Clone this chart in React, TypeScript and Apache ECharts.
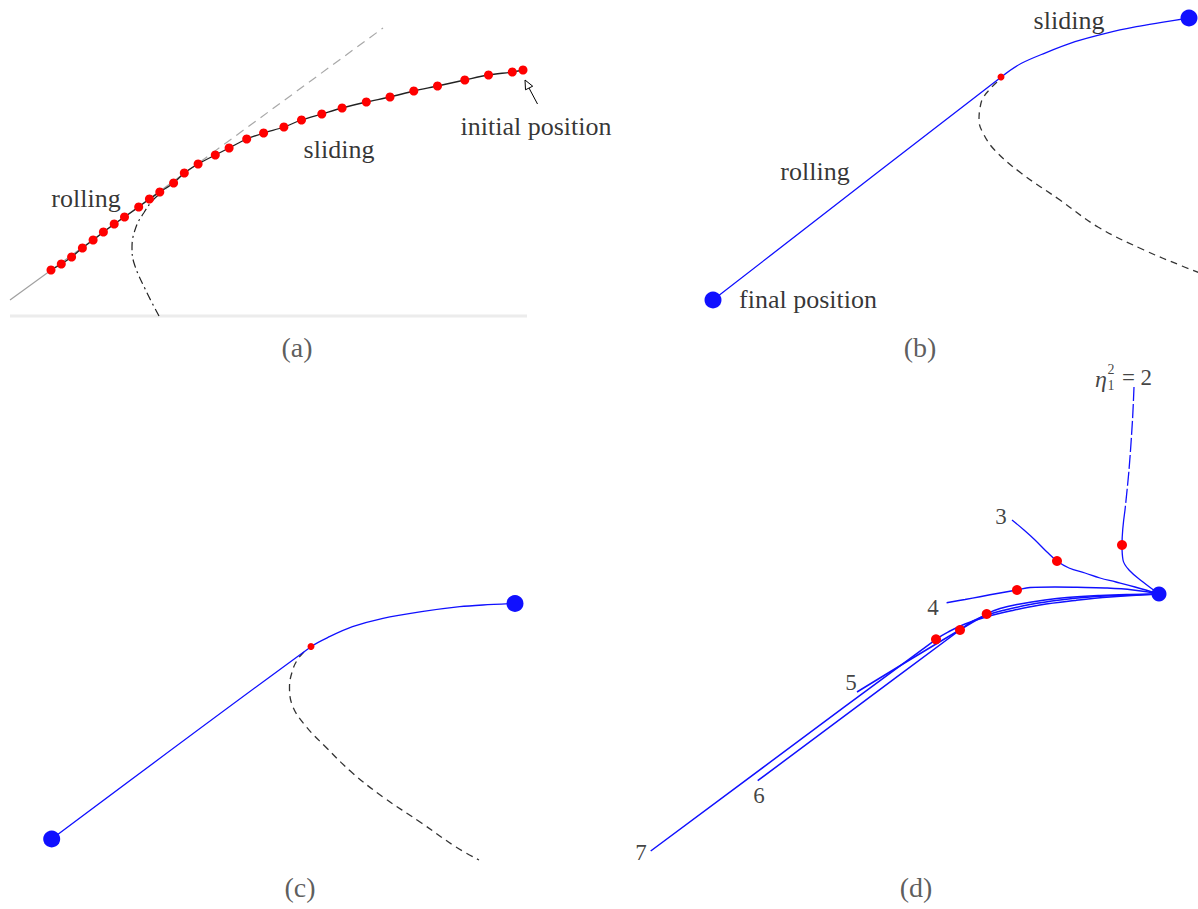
import React, { useEffect, useRef } from "react";
import * as echarts from "echarts";

// ---------- Panel (a) ----------
const aTangentSolid = [[10, 300], [200, 162]];
const aTangentDashed = [[200, 162], [383, 28]];
const aPathDots = [
  [51, 270], [61.3, 264], [71.6, 257], [82.4, 248], [93.1, 240], [103.4, 232],
  [114.2, 224], [124.5, 217], [138.7, 207], [149.4, 199], [159.8, 192], [173.6, 183],
  [184.3, 173], [198.1, 164], [215.3, 155], [229.1, 148], [246.7, 139], [263.6, 133],
  [283.9, 127], [301.5, 120], [321.8, 114], [342.1, 108], [366.3, 102], [390, 97],
  [413.8, 91], [437.5, 86], [464.8, 80], [488.5, 75], [512.3, 72], [523, 70],
];
const aSwitchCurve = [
  [159, 316], [145.6, 290], [134, 263], [132, 247], [136, 227], [143.7, 213], [153, 200], [166, 189],
];
const aBaseLine = [[10, 316], [527, 316]];
const aArrowShaft = [[529, 88], [537.5, 104]];
const aArrowHead = [[525, 80], [532.7, 86.2], [525.5, 89.8], [525, 80]];
const aLabels: [string, number, number][] = [
  ["rolling", 86, 198],
  ["sliding", 339, 149],
  ["initial position", 536, 126],
];

// ---------- Panel (b) ----------
const bPath = [
  [713, 300], [1001.6, 76.7], [1021.5, 63.3], [1044.4, 53.3], [1075, 41.7],
  [1105.7, 33.3], [1136.4, 26.7], [1163.2, 22.2], [1189, 18],
];
const bEnds = [[713, 300], [1189, 18]];
const bSwitch = [[1001, 77]];
const bCurve = [
  [997, 82], [991, 88], [983, 98], [980, 108], [979, 120], [983, 133], [994.6, 150],
  [1021, 173], [1060, 200], [1098, 227], [1144, 250], [1182, 266], [1200, 273],
];
const bLabels: [string, number, number][] = [
  ["sliding", 1069, 20],
  ["rolling", 815, 171],
  ["final position", 808, 299],
];

// ---------- Panel (c) ----------
const cPath = [
  [51.7, 839], [311, 646.7], [329.5, 636.7], [352.5, 626.7], [383, 618.3],
  [421.5, 611.7], [459.8, 606.7], [482.8, 605], [515, 603.5],
];
const cEnds = [[51.7, 839], [515, 603.5]];
const cSwitch = [[311, 646.5]];
const cCurve = [
  [304, 652], [298, 659], [293, 669], [289.5, 687], [293, 707], [306.5, 727],
  [325.7, 747], [352.5, 773], [383, 797], [421.5, 823], [456, 847], [479, 860],
];

// ---------- Panel (d) ----------
const dEta2Upper = [[1134, 387], [1132.5, 420], [1129, 470], [1125, 510]];
const dEta2Lower = [[1125, 510], [1122, 545], [1123, 560], [1130, 571], [1143, 582], [1159, 594]];
const dEta3 = [
  [1012, 520], [1024, 530], [1035, 540], [1047, 552], [1057, 561], [1069, 568],
  [1085, 573], [1100, 578], [1116, 582], [1135, 587], [1159, 594],
];
const dEta4 = [
  [946.6, 602.7], [965, 599.5], [980, 596.7], [1000, 593], [1017, 590], [1030, 587.5],
  [1055, 587], [1077, 587.3], [1105, 588], [1133, 590], [1159, 594],
];
const dEta5 = [
  [857, 692], [986.7, 614], [1000, 608.5], [1020, 604], [1045, 600], [1067, 597.5],
  [1100, 595.5], [1130, 594.5], [1159, 594],
];
const dEta6 = [
  [757.7, 780.7], [960, 630], [973, 621], [987, 615], [1005, 610], [1030, 604.5],
  [1060, 600], [1090, 597], [1120, 595.5], [1159, 594],
];
const dEta7 = [
  [650.7, 851], [936, 639.3], [950, 631], [965, 624], [986, 617], [1010, 611],
  [1040, 605], [1075, 600.5], [1110, 597], [1159, 594],
];
const dSwitches = [[1122, 545], [1057, 561], [1017, 590], [986.7, 614], [960, 630], [936, 639.3]];
const dStart = [[1159, 594]];
const dLabels: [string, number, number][] = [
  ["3", 1001, 516],
  ["4", 933, 607],
  ["5", 851, 682],
  ["6", 759, 795],
  ["7", 641, 852],
  ["= 2", 1137, 377],
];
const dEtaLabel: [string, number, number][] = [["η", 1101, 379]];
const dEtaSup: [string, number, number][] = [["2", 1111, 369]];
const dEtaSub: [string, number, number][] = [["1", 1111, 385]];

// ---------- Captions ----------
const captionsTop: [string, number, number][] = [["(a)", 297, 347]];
const captionsTopB: [string, number, number][] = [["(b)", 920, 347]];
const captionsBotC: [string, number, number][] = [["(c)", 300, 887]];
const captionsBotD: [string, number, number][] = [["(d)", 916, 887]];

const BLUE = "#1010ff";
const RED = "#ff0000";
const SERIF = "'Liberation Serif', 'Times New Roman', serif";

function lineS(gi: number, data: number[][], color: string, width: number, type: any = "solid", smooth: number | boolean = false, z = 2) {
  return {
    type: "line",
    xAxisIndex: gi,
    yAxisIndex: gi,
    data,
    smooth,
    symbol: "none",
    silent: true,
    z,
    lineStyle: { color, width, type },
  };
}

function dotS(gi: number, data: number[][], color: string, size: number, z = 5) {
  return {
    type: "scatter",
    xAxisIndex: gi,
    yAxisIndex: gi,
    data,
    symbol: "circle",
    symbolSize: size,
    silent: true,
    z,
    itemStyle: { color, opacity: 1 },
  };
}

function textS(gi: number, items: [string, number, number][], fontSize: number, extra: any = {}) {
  return {
    type: "scatter",
    xAxisIndex: gi,
    yAxisIndex: gi,
    data: items.map(([name, x, y]) => ({ name, value: [x, y] })),
    symbolSize: 0,
    silent: true,
    z: 10,
    itemStyle: { color: "transparent" },
    label: {
      show: true,
      position: "inside",
      formatter: "{b}",
      fontFamily: SERIF,
      fontSize,
      color: "#000",
      textBorderWidth: 0,
      textShadowBlur: 0,
      ...extra,
    },
  };
}

export default function App() {
  const ref = useRef<HTMLDivElement>(null);
  useEffect(() => {
    if (!ref.current) return;
    const chart = echarts.init(ref.current, undefined, { renderer: "svg" });
    const grids = [
      { left: 0, top: 0, width: 600, height: 360 },
      { left: 600, top: 0, width: 598, height: 360 },
      { left: 0, top: 360, width: 600, height: 549 },
      { left: 600, top: 360, width: 598, height: 549 },
    ];
    const xr = [[0, 600], [600, 1198], [0, 600], [600, 1198]];
    const yr = [[0, 360], [0, 360], [360, 909], [360, 909]];
    const option: any = {
      animation: false,
      backgroundColor: "#ffffff",
      grid: grids.map((g) => ({ ...g, containLabel: false })),
      xAxis: xr.map(([min, max], i) => ({ type: "value", gridIndex: i, min, max, show: false })),
      yAxis: yr.map(([min, max], i) => ({ type: "value", gridIndex: i, min, max, inverse: true, show: false })),
      series: [
        // (a)
        lineS(0, aBaseLine, "#ececec", 3),
        lineS(0, aTangentSolid, "#a0a0a0", 1.2),
        lineS(0, aTangentDashed, "#a8a8a8", 1.2, [9, 6]),
        lineS(0, aPathDots, "#222", 1.3, "solid", 0.3),
        lineS(0, aSwitchCurve, "#222", 1.2, [8, 4, 2, 4], 0.4),
        lineS(0, aArrowShaft, "#000", 1),
        lineS(0, aArrowHead, "#000", 1),
        dotS(0, aPathDots, RED, 9),
        textS(0, aLabels, 26),
        textS(0, captionsTop, 28, { color: "#333" }),
        // (b)
        lineS(1, bCurve, "#333", 1.3, [7, 5], 0.4),
        lineS(1, bPath, BLUE, 1.3, "solid", 0.3, 3),
        dotS(1, bSwitch, RED, 7),
        dotS(1, bEnds, BLUE, 17),
        textS(1, bLabels, 26),
        textS(1, captionsTopB, 28, { color: "#333" }),
        // (c)
        lineS(2, cCurve, "#333", 1.3, [7, 5], 0.4),
        lineS(2, cPath, BLUE, 1.3, "solid", 0.3, 3),
        dotS(2, cSwitch, RED, 7),
        dotS(2, cEnds, BLUE, 17),
        textS(2, captionsBotC, 28, { color: "#333" }),
        // (d)
        lineS(3, dEta2Upper, BLUE, 1.3, [14, 3], 0.3),
        lineS(3, dEta2Lower, BLUE, 1.3, "solid", 0.4),
        lineS(3, dEta3, BLUE, 1.3, "solid", 0.4),
        lineS(3, dEta4, BLUE, 1.5, "solid", 0.4),
        lineS(3, dEta5, BLUE, 1.5, "solid", 0.4),
        lineS(3, dEta6, BLUE, 1.5, "solid", 0.4),
        lineS(3, dEta7, BLUE, 1.5, "solid", 0.4),
        dotS(3, dSwitches, RED, 10),
        dotS(3, dStart, BLUE, 15),
        textS(3, dLabels, 23, { color: "#111" }),
        textS(3, dEtaLabel, 24, { color: "#111", fontStyle: "italic" }),
        textS(3, dEtaSup, 14, { color: "#111" }),
        textS(3, dEtaSub, 14, { color: "#111" }),
        textS(3, captionsBotD, 28, { color: "#333" }),
      ],
    };
    chart.setOption(option);
    return () => chart.dispose();
  }, []);
  return (
    <div
      ref={ref}
      style={{ position: "absolute", left: 0, top: 0, width: 1198, height: 909, background: "#fff" }}
    />
  );
}
